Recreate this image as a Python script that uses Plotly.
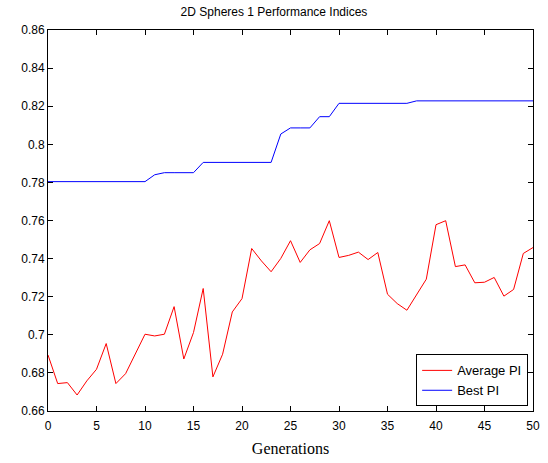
import plotly.graph_objects as go

generations = list(range(51))
average_pi = [0.6894, 0.6744, 0.6749, 0.6684, 0.6758, 0.6819, 0.6954, 0.6744, 0.6796, 0.6898,
              0.7003, 0.6994, 0.7003, 0.7148, 0.6873, 0.7012, 0.7243, 0.6779, 0.6898, 0.7120,
              0.7190, 0.7453, 0.7388, 0.7331, 0.7401, 0.7494, 0.7380, 0.7446, 0.7479, 0.7599,
              0.7406, 0.7417, 0.7434, 0.7395, 0.7432, 0.7213, 0.7164, 0.7129, 0.7213, 0.7292,
              0.7578, 0.7599, 0.7358, 0.7367, 0.7273, 0.7276, 0.7301, 0.7203, 0.7238, 0.7427,
              0.7458]
best_pi = [0.7804] * 11 + [0.7840] + [0.7851] * 4 + [0.7905] * 8 + [0.8054] + [0.8086] * 3 \
          + [0.8145] * 2 + [0.8215] * 8 + [0.8228] * 13

x_ticks = [0, 5, 10, 15, 20, 25, 30, 35, 40, 45, 50]
y_ticks = [0.66, 0.68, 0.70, 0.72, 0.74, 0.76, 0.78, 0.80, 0.82, 0.84, 0.86]
y_tick_labels = ["0.66", "0.68", "0.7", "0.72", "0.74", "0.76", "0.78", "0.8", "0.82", "0.84", "0.86"]

fig = go.Figure()
fig.add_trace(go.Scatter(x=generations, y=average_pi, mode="lines", name="Average PI",
                         line=dict(color="#ff0000", width=1)))
fig.add_trace(go.Scatter(x=generations, y=best_pi, mode="lines", name="Best PI",
                         line=dict(color="#0000ff", width=1)))

axis_common = dict(showline=True, linecolor="black", linewidth=1, mirror="ticks",
                   ticks="inside", ticklen=5, tickcolor="black", showgrid=False,
                   zeroline=False, automargin=False,
                   tickfont=dict(family="Liberation Sans, Arial", size=12, color="black"))

fig.update_layout(
    width=548, height=463,
    margin=dict(l=48, r=15, t=30, b=52),
    paper_bgcolor="white", plot_bgcolor="white",
    title=dict(text="2D Spheres 1 Performance Indices", x=0.5, xanchor="center",
               y=1 - 12 / 463, yanchor="middle",
               font=dict(family="Liberation Sans, Arial", size=12, color="black")),
    xaxis=dict(range=[0, 50], tickvals=x_ticks, ticklabelstandoff=4,
               title=dict(text="Generations", standoff=10,
                          font=dict(family="Liberation Serif, Times New Roman", size=16, color="black")),
               **axis_common),
    yaxis=dict(range=[0.66, 0.86], tickvals=y_ticks, ticktext=y_tick_labels, **axis_common),
    legend=dict(x=0.99, y=0.012, xanchor="right", yanchor="bottom",
                bgcolor="white", bordercolor="black", borderwidth=1,
                font=dict(family="Liberation Sans, Arial", size=13, color="black"),
                tracegroupgap=0, itemwidth=30, entrywidth=100),
    showlegend=True,
)

fig.write_html("out.html")
